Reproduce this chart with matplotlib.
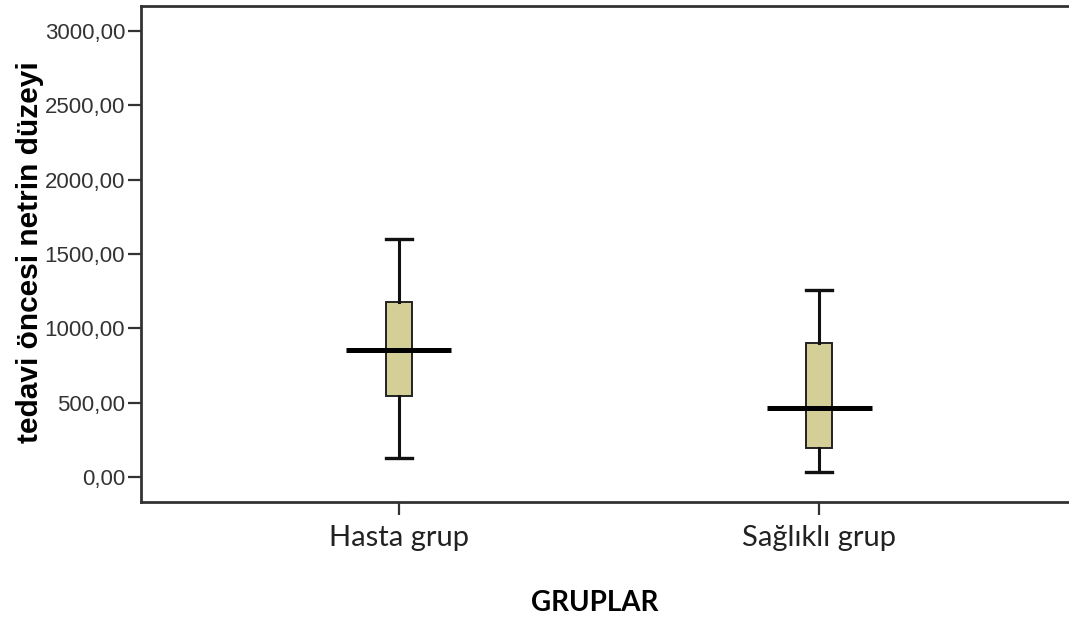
import matplotlib
matplotlib.use('Agg')
import matplotlib.pyplot as plt

# Data
groups = ['Hasta grup', 'Sağlıklı grup']
whisker_low = [128, 34]
q1 = [546, 196]
median = [856, 465]
q3 = [1180, 904]
whisker_high = [1598, 1261]
yticks = [0, 500, 1000, 1500, 2000, 2500, 3000]

box_color = '#d3cf97'
spine_color = '#333333'

fig = plt.figure(figsize=(10.69, 6.23), dpi=100)
ax = fig.add_axes([141 / 1069, 121 / 623, 936 / 1069, 496 / 623])

pos = list(range(len(groups)))
stats = []
for i, g in enumerate(groups):
    stats.append({'label': g, 'whislo': whisker_low[i], 'q1': q1[i], 'med': median[i],
                  'q3': q3[i], 'whishi': whisker_high[i], 'fliers': []})

ax.bxp(stats, positions=pos, widths=0.064, patch_artist=True, showfliers=False,
       boxprops=dict(facecolor=box_color, edgecolor='#222222', linewidth=1.4),
       whiskerprops=dict(color='#111111', linewidth=2.2),
       capprops=dict(color='#111111', linewidth=2.4),
       medianprops=dict(linewidth=0), capwidths=0.06)
# SPSS draws the median line wider than the box
ax.hlines(median, [p - 0.125 for p in pos], [p + 0.125 for p in pos],
          colors='black', linewidth=3.6, zorder=5)

ax.set_xlim(-0.614, 1.614)
ax.set_ylim(-169, 3169)
ax.set_yticks(yticks)
ax.set_yticklabels(['{:.2f}'.format(v).replace('.', ',') for v in yticks],
                   fontsize=16, color='#333333', family='Liberation Sans')
ax.set_xticks(pos)
ax.set_xticklabels(groups, fontsize=21, color='#222222', family='Lato')

for s in ax.spines.values():
    s.set_color(spine_color)
    s.set_linewidth(2.0)
ax.spines['right'].set_visible(False)
ax.tick_params(axis='both', direction='out', length=9.5, width=1.6, color=spine_color)
ax.tick_params(axis='y', pad=2)
ax.tick_params(axis='x', pad=7)

ax.set_ylabel('tedavi öncesi netrin düzeyi', fontsize=21.5, fontweight='bold',
              family='Liberation Sans', color='black')
ax.yaxis.set_label_coords(-0.1186, 0.504)
ax.set_xlabel('GRUPLAR', fontsize=20, fontweight='bold', family='Lato', color='black')
ax.xaxis.set_label_coords(0.485, -0.204)
ax.xaxis.label.set_verticalalignment('center')
ax.yaxis.label.set_verticalalignment('center')

fig.savefig('out.png', dpi=100)
